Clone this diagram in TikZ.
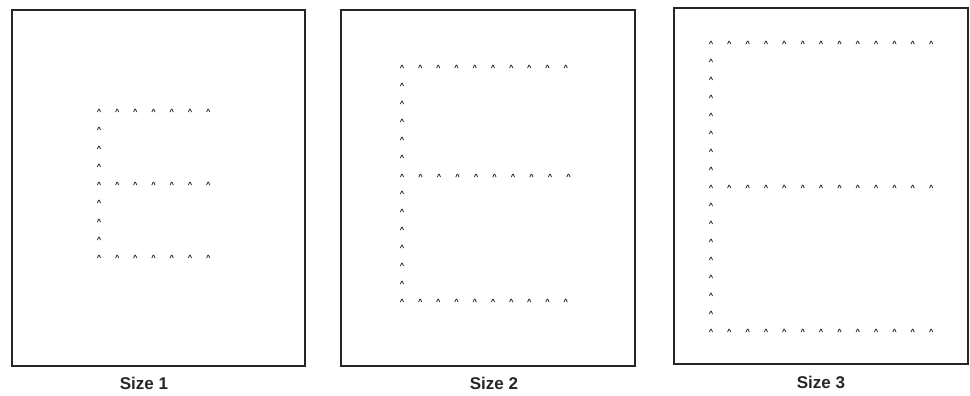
\documentclass[tikz,border=0pt]{standalone}
\usepackage{fontspec}
\setmainfont{Liberation Sans}
\tikzset{
  frame/.style={draw=black!85, line width=1.15pt},
  caret/.style={inner sep=0pt, font=\fontsize{7.5}{7.5}\selectfont\bfseries, text=black},
  caption/.style={font=\fontsize{17}{17}\selectfont\bfseries, text=black!85}
}
\begin{document}
\begin{tikzpicture}[x=1pt,y=-1pt]
\useasboundingbox (0,0) rectangle (970,396);
% frames
\draw[frame] (12,10) rectangle (305,366) node[pos=0,inner sep=0pt] (f1) {};
\draw[frame] (341,10) rectangle (635,366) node[pos=0,inner sep=0pt] (f2) {};
\draw[frame] (674,8) rectangle (968,364) node[pos=0,inner sep=0pt] (f3) {};
% Size 1 E
\foreach \c in {0,...,6} {
  \node[caret] (a-t-\c) at ({99+18.2*\c},112) {\^{}};
  \node[caret] (a-m-\c) at ({99+18.2*\c},185) {\^{}};
  \node[caret] (a-b-\c) at ({99+18.2*\c},258) {\^{}};
}
\foreach \r in {1,2,3,5,6,7} {
  \node[caret] (a-v-\r) at (99,{112+18.25*\r}) {\^{}};
}
% Size 2 E
\foreach \c in {0,...,9} {
  \node[caret] (b-t-\c) at ({402+18.2*\c},68) {\^{}};
  \node[caret] (b-m-\c) at ({402+18.5*\c},176.5) {\^{}};
  \node[caret] (b-b-\c) at ({402+18.2*\c},302) {\^{}};
}
\foreach \r in {1,2,3,4,5,7,8,9,10,11,12} {
  \node[caret] (b-v-\r) at (402,{68+18*\r}) {\^{}};
}
% Size 3 E
\foreach \c in {0,...,12} {
  \node[caret] (c-t-\c) at ({711+18.35*\c},43.5) {\^{}};
  \node[caret] (c-m-\c) at ({711+18.35*\c},187.5) {\^{}};
  \node[caret] (c-b-\c) at ({711+18.35*\c},331.5) {\^{}};
}
\foreach \r in {1,2,3,4,5,6,7,9,10,11,12,13,14,15} {
  \node[caret] (c-v-\r) at (711,{43.5+18*\r}) {\^{}};
}
% captions
\node[caption] (s1) at (144,383) {Size 1};
\node[caption] (s2) at (494,383) {Size 2};
\node[caption] (s3) at (821,382) {Size 3};
\end{tikzpicture}
\end{document}
